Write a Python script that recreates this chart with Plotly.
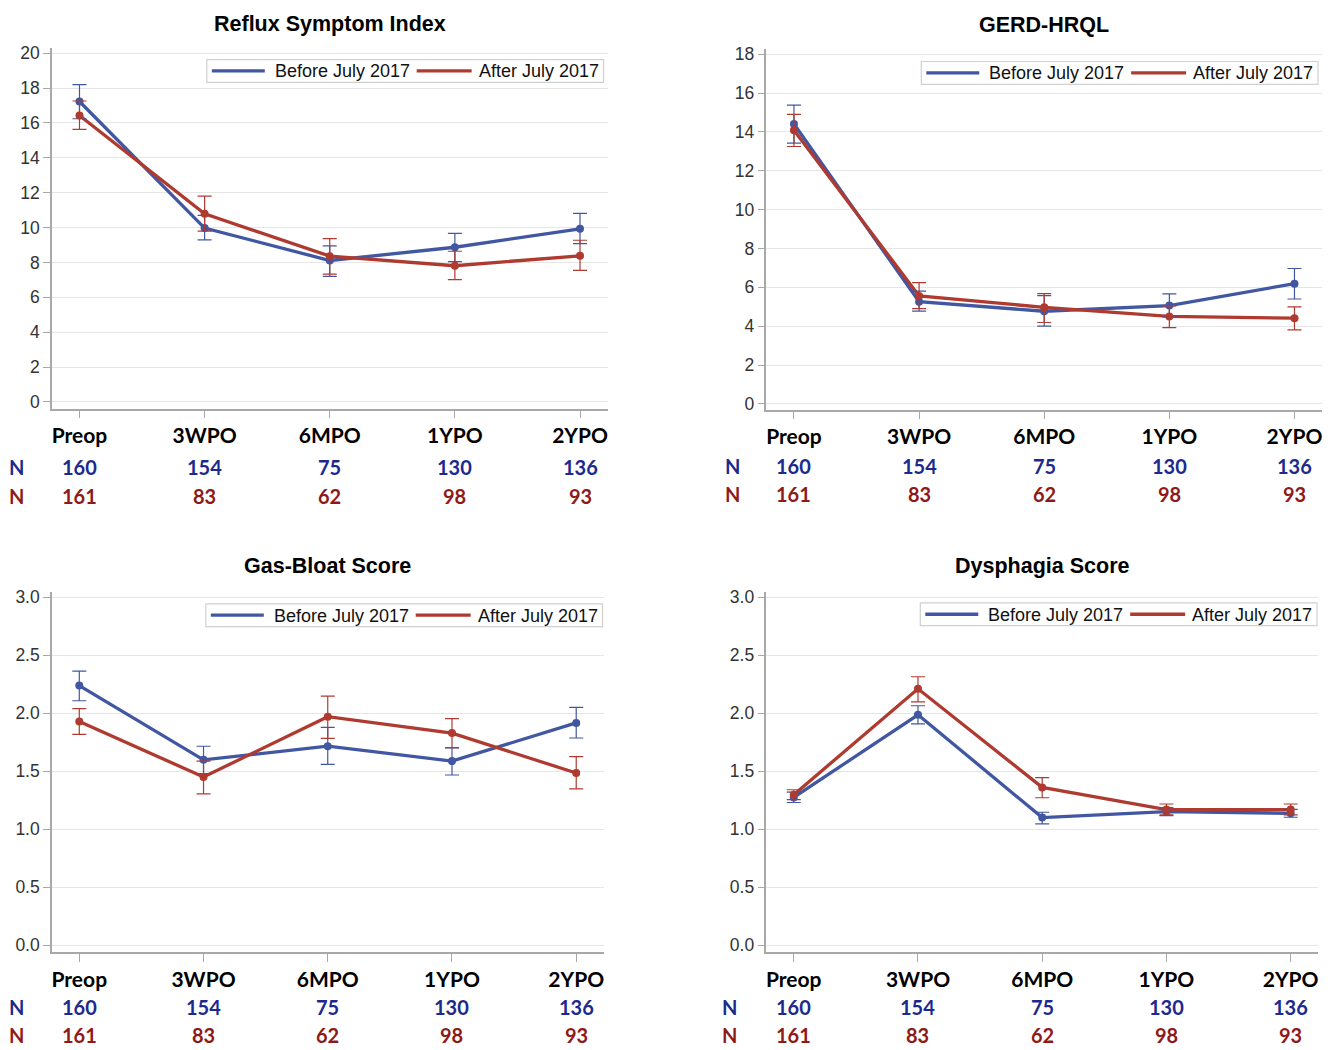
import plotly.graph_objects as go

W, H = 1335, 1050

categories = ["Preop", "3WPO", "6MPO", "1YPO", "2YPO"]
n_before = [160, 154, 75, 130, 136]
n_after = [161, 83, 62, 98, 93]
series_names = ["Before July 2017", "After July 2017"]
titles = ["Reflux Symptom Index", "GERD-HRQL", "Gas-Bloat Score", "Dysphagia Score"]

# Reflux Symptom Index
rsi_before = [17.23, 9.97, 8.11, 8.87, 9.93]
rsi_before_hi = [18.2, 10.7, 8.95, 9.67, 10.81]
rsi_before_lo = [16.24, 9.29, 7.2, 8.05, 9.08]
rsi_after = [16.43, 10.79, 8.36, 7.81, 8.38]
rsi_after_hi = [17.26, 11.8, 9.36, 8.64, 9.27]
rsi_after_lo = [15.63, 9.8, 7.33, 7.01, 7.54]

# GERD-HRQL
gerd_before = [14.41, 5.26, 4.77, 5.06, 6.19]
gerd_before_hi = [15.38, 5.8, 5.57, 5.66, 6.97]
gerd_before_lo = [13.42, 4.77, 4.0, 4.48, 5.4]
gerd_after = [14.09, 5.56, 4.97, 4.5, 4.41]
gerd_after_hi = [14.9, 6.24, 5.68, 5.04, 4.99]
gerd_after_lo = [13.25, 4.9, 4.19, 3.93, 3.81]

# Gas-Bloat Score
gb_before = [2.238, 1.598, 1.715, 1.587, 1.916]
gb_before_hi = [2.363, 1.715, 1.877, 1.7, 2.05]
gb_before_lo = [2.107, 1.48, 1.558, 1.467, 1.786]
gb_after = [1.928, 1.45, 1.97, 1.828, 1.484]
gb_after_hi = [2.039, 1.587, 2.147, 1.953, 1.626]
gb_after_lo = [1.817, 1.305, 1.783, 1.703, 1.348]

# Dysphagia Score
dys_before = [1.274, 1.986, 1.1, 1.152, 1.137]
dys_before_hi = [1.32, 2.064, 1.146, 1.186, 1.17]
dys_before_lo = [1.23, 1.908, 1.046, 1.117, 1.103]
dys_after = [1.297, 2.21, 1.36, 1.169, 1.169]
dys_after_hi = [1.34, 2.314, 1.444, 1.217, 1.217]
dys_after_lo = [1.254, 2.098, 1.271, 1.123, 1.123]

panel_data = [
    [(rsi_before, rsi_before_hi, rsi_before_lo), (rsi_after, rsi_after_hi, rsi_after_lo)],
    [(gerd_before, gerd_before_hi, gerd_before_lo), (gerd_after, gerd_after_hi, gerd_after_lo)],
    [(gb_before, gb_before_hi, gb_before_lo), (gb_after, gb_after_hi, gb_after_lo)],
    [(dys_before, dys_before_hi, dys_before_lo), (dys_after, dys_after_hi, dys_after_lo)],
]

LINE_COLORS = ["#4257A1", "#AF3A30"]
N_COLORS = ["#1C2A8E", "#8E1A18"]
LABEL_FONT = "Lato, Carlito, Calibri, sans-serif"
ARIAL = "Liberation Sans, Arial, sans-serif"

# layout geometry in pixels
panels = [
    dict(x0=52, x1=608, y0=43, y1=407, yr=[-0.38, 20.32], dtick=2, fmt="d",
         title_y=19, n1=466, n2=495, nx=17, leg=(207, 55)),
    dict(x0=767, x1=1323, y0=44, y1=408, yr=[-0.29, 18.29], dtick=2, fmt="d",
         title_y=20, n1=465, n2=493, nx=733, leg=(922, 57)),
    dict(x0=52, x1=604, y0=592, y1=955, yr=[-0.057, 3.045], dtick=0.5, fmt=".1f",
         title_y=566, n1=1011, n2=1039, nx=17, leg=(206, 604)),
    dict(x0=767, x1=1319, y0=592, y1=955, yr=[-0.057, 3.045], dtick=0.5, fmt=".1f",
         title_y=566, n1=1011, n2=1039, nx=730, leg=(921, 603)),
]
LEG_W, LEG_H = 397, 23
LEG_LINES = [(5, 58), (210, 265)]
LEG_TEXT = [66, 270]


def px(x):
    return x / W


def py(y):
    return 1 - y / H


fig = go.Figure()
xs = list(range(len(categories)))
annotations = []
shapes = []
layout_extra = {}

for i, (p, pdata) in enumerate(zip(panels, panel_data)):
    k = "" if i == 0 else str(i + 1)
    xa, ya = "x" + k, "y" + k
    for s, (vals, hi, lo) in enumerate(pdata):
        fig.add_trace(go.Scatter(
            x=xs, y=vals, mode="lines", name=series_names[s],
            line=dict(color=LINE_COLORS[s], width=3.3),
            xaxis=xa, yaxis=ya, showlegend=False, hoverinfo="skip",
        ))
    for s, (vals, hi, lo) in enumerate(pdata):
        fig.add_trace(go.Scatter(
            x=xs, y=vals, mode="markers", name=series_names[s],
            marker=dict(color=LINE_COLORS[s], size=8),
            error_y=dict(type="data", symmetric=False,
                         array=[h - v for h, v in zip(hi, vals)],
                         arrayminus=[v - l for l, v in zip(lo, vals)],
                         color=LINE_COLORS[s], thickness=1.2, width=7),
            xaxis=xa, yaxis=ya, showlegend=False, hoverinfo="skip",
        ))

    layout_extra["xaxis" + k] = dict(
        domain=[px(p["x0"]), px(p["x1"])], anchor=ya,
        range=[-0.22, len(categories) - 1 + 0.22],
        tickvals=xs, ticktext=[f"<b>{c}</b>" for c in categories],
        tickfont=dict(family=LABEL_FONT, size=21, color="#000"),
        ticks="outside", ticklen=8, tickcolor="#A8A8A8", tickwidth=1,
        showline=True, linecolor="#A8A8A8", linewidth=1.5,
        showgrid=False, zeroline=False, ticklabelstandoff=0,
    )
    layout_extra["yaxis" + k] = dict(
        domain=[py(p["y1"]), py(p["y0"])], anchor=xa,
        range=p["yr"], dtick=p["dtick"], tick0=0, tickformat=p["fmt"],
        tickfont=dict(family=ARIAL, size=17.5, color="#333"),
        ticks="outside", ticklen=7, tickcolor="#A8A8A8", tickwidth=1,
        showline=True, linecolor="#A8A8A8", linewidth=1.5,
        showgrid=True, gridcolor="#E6E6E6", gridwidth=1.2, zeroline=False,
    )
    # legend box (drawn as layout decoration)
    L, T = p["leg"]
    cy = T + LEG_H / 2
    shapes.append(dict(type="rect", xref="paper", yref="paper",
                       x0=px(L), x1=px(L + LEG_W), y0=py(T + LEG_H), y1=py(T),
                       line=dict(color="#D0D0D0", width=1.2), fillcolor="white",
                       layer="above"))
    for s in range(2):
        a, b = LEG_LINES[s]
        shapes.append(dict(type="line", xref="paper", yref="paper",
                           x0=px(L + a), x1=px(L + b), y0=py(cy), y1=py(cy),
                           line=dict(color=LINE_COLORS[s], width=3.3), layer="above"))
        annotations.append(dict(
            text=series_names[s], xref="paper", yref="paper",
            x=px(L + LEG_TEXT[s]), y=py(cy + 0.5), xanchor="left", yanchor="middle",
            showarrow=False, font=dict(family=ARIAL, size=18, color="#111"),
        ))
    # title
    annotations.append(dict(
        text=f"<b>{titles[i]}</b>", xref="paper", yref="paper",
        x=px((p["x0"] + p["x1"]) / 2), y=py(p["title_y"]),
        xanchor="center", yanchor="middle", showarrow=False,
        font=dict(family=ARIAL, size=21.5, color="#000"),
    ))
    # N rows
    for row, (nvals, ny) in enumerate([(n_before, p["n1"]), (n_after, p["n2"])]):
        annotations.append(dict(
            text="<b>N</b>", xref="paper", yref="paper",
            x=px(p["nx"]), y=py(ny), xanchor="center", yanchor="middle",
            showarrow=False, font=dict(family=LABEL_FONT, size=20, color=N_COLORS[row]),
        ))
        for xi, nv in zip(xs, nvals):
            annotations.append(dict(
                text=f"<b>{nv}</b>", xref=xa, yref="paper",
                x=xi, y=py(ny), xanchor="center", yanchor="middle",
                showarrow=False, font=dict(family=LABEL_FONT, size=20, color=N_COLORS[row]),
            ))

fig.update_layout(
    width=W, height=H, margin=dict(l=0, r=0, t=0, b=0),
    paper_bgcolor="white", plot_bgcolor="white",
    annotations=annotations, shapes=shapes, **layout_extra,
)

fig.write_html("out.html", config={"displayModeBar": False},
               post_script="document.body.style.margin='0';document.body.style.padding='0';")
